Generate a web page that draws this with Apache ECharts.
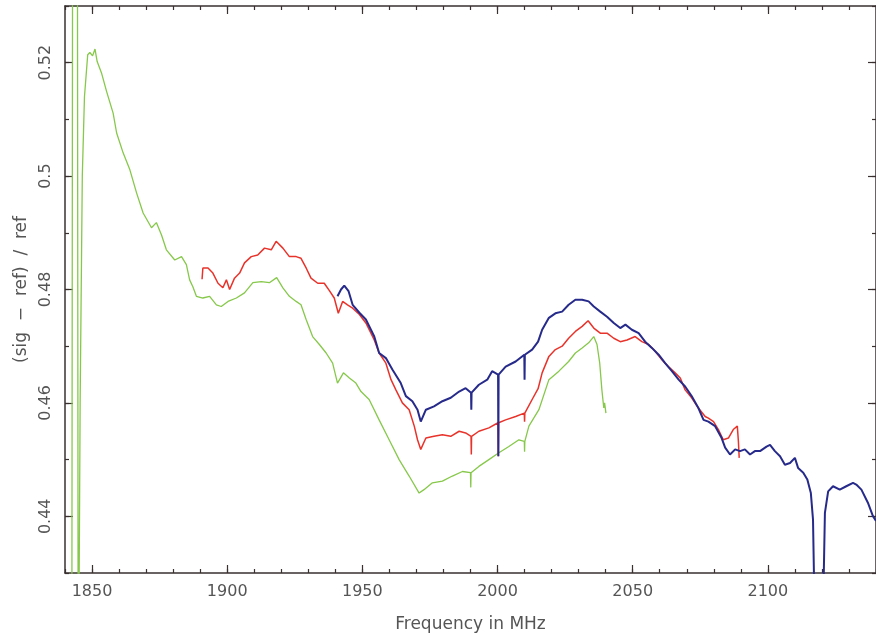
<!DOCTYPE html>
<html>
<head>
<meta charset="utf-8">
<script src="https://cdn.jsdelivr.net/npm/echarts@6/dist/echarts.min.js"></script>
<style>html,body{margin:0;padding:0;background:#fff}#c{width:876px;height:639px}</style>
</head>
<body>
<div id="c"></div>
<script>
// ---- data (frequency MHz, (sig-ref)/ref) ----
const xTickLabels = [1850, 1900, 1950, 2000, 2050, 2100];
const yTickLabels = [0.44, 0.46, 0.48, 0.50, 0.52];

const greenData = [[1842.5,0.40],[1842.8,0.54],[1844.6,0.54],[1844.9,0.40],[1845.6,0.46],[1846.4,0.500],[1847.2,0.514],[1848.4,0.5214],[1849.2,0.5218],[1850.2,0.5212],[1851.1,0.5224],[1851.9,0.5202],[1853.5,0.5182],[1855.4,0.5149],[1857.8,0.5111],[1859.1,0.5076],[1861.5,0.5041],[1864.0,0.5011],[1866.5,0.4970],[1868.9,0.4935],[1872.0,0.4909],[1873.8,0.4918],[1875.7,0.4896],[1877.5,0.4870],[1880.6,0.4852],[1883.1,0.4858],[1884.9,0.4844],[1886.1,0.4817],[1887.3,0.4805],[1888.6,0.4788],[1891.0,0.4785],[1893.5,0.4788],[1896.0,0.4773],[1897.8,0.4770],[1900.3,0.4779],[1903.4,0.4785],[1906.4,0.4794],[1909.5,0.4812],[1912.6,0.4814],[1915.6,0.4812],[1918.3,0.4821],[1920.6,0.4803],[1923.0,0.4788],[1925.5,0.4779],[1927.3,0.4773],[1929.2,0.4747],[1931.6,0.4717],[1934.1,0.4703],[1936.6,0.4688],[1939.0,0.4670],[1940.8,0.4635],[1943.0,0.4653],[1945.2,0.4644],[1947.6,0.4635],[1949.5,0.4620],[1952.5,0.4606],[1956.2,0.4570],[1959.9,0.4535],[1963.6,0.4500],[1967.3,0.4471],[1971.0,0.4441],[1972.8,0.4447],[1975.9,0.4459],[1979.6,0.4462],[1983.3,0.4471],[1987.0,0.4479],[1990.0,0.4477],[1990.1,0.4451],[1990.2,0.4477],[1993.1,0.4488],[1996.8,0.4500],[2000.5,0.4512],[2004.2,0.4523],[2007.9,0.4535],[2009.9,0.4532],[2010.0,0.4514],[2010.1,0.4532],[2011.6,0.4559],[2015.3,0.4588],[2019.0,0.4641],[2022.7,0.4656],[2026.3,0.4673],[2028.8,0.4688],[2031.3,0.4697],[2033.7,0.4706],[2035.6,0.4717],[2036.8,0.4703],[2037.8,0.4670],[2038.6,0.4623],[2039.3,0.4591],[2039.6,0.4600],[2040.1,0.4582]];

const redData = [[1890.7,0.4818],[1891.0,0.4838],[1892.9,0.4838],[1894.7,0.4829],[1896.6,0.4811],[1898.4,0.4803],[1899.7,0.4817],[1900.9,0.4800],[1902.7,0.4820],[1904.6,0.4829],[1906.4,0.4847],[1908.9,0.4858],[1911.3,0.4861],[1913.8,0.4873],[1916.3,0.4870],[1918.1,0.4885],[1920.6,0.4873],[1923.0,0.4858],[1925.5,0.4858],[1927.3,0.4855],[1929.2,0.4838],[1931.0,0.4820],[1933.5,0.4811],[1935.9,0.4811],[1937.8,0.4798],[1939.6,0.4785],[1941.1,0.4758],[1942.7,0.4779],[1944.5,0.4773],[1946.4,0.4767],[1948.9,0.4756],[1951.3,0.4741],[1954.4,0.4711],[1956.2,0.4688],[1958.7,0.4670],[1960.6,0.4641],[1962.4,0.4623],[1964.8,0.4600],[1967.3,0.4588],[1969.2,0.4559],[1970.4,0.4535],[1971.6,0.4518],[1973.5,0.4538],[1976.5,0.4541],[1979.6,0.4544],[1982.7,0.4541],[1985.8,0.4550],[1988.2,0.4547],[1990.2,0.4541],[1990.3,0.4509],[1990.4,0.4541],[1993.1,0.4550],[1996.8,0.4556],[2000.2,0.4565],[2000.3,0.4506],[2000.4,0.4565],[2003.0,0.4570],[2006.7,0.4576],[2009.9,0.4582],[2010.0,0.4567],[2010.1,0.4582],[2012.8,0.4606],[2015.0,0.4625],[2016.5,0.4653],[2019.0,0.4682],[2021.4,0.4694],[2023.9,0.4700],[2026.3,0.4714],[2028.8,0.4726],[2031.3,0.4735],[2033.5,0.4745],[2035.6,0.4732],[2038.0,0.4723],[2040.5,0.4723],[2043.0,0.4714],[2045.4,0.4708],[2047.9,0.4711],[2050.9,0.4717],[2053.4,0.4708],[2055.9,0.4703],[2058.3,0.4691],[2060.8,0.4676],[2063.2,0.4664],[2065.7,0.4653],[2067.6,0.4644],[2069.4,0.4623],[2071.8,0.4609],[2074.3,0.4591],[2076.8,0.4576],[2078.0,0.4573],[2079.9,0.4567],[2081.7,0.4553],[2083.5,0.4535],[2085.4,0.4538],[2087.2,0.4553],[2088.7,0.4559],[2089.1,0.4532],[2089.4,0.4503]];

const blueData = [[1940.8,0.4788],[1942.1,0.4800],[1943.3,0.4807],[1944.9,0.4797],[1946.4,0.4773],[1948.9,0.4759],[1951.3,0.4747],[1954.4,0.4717],[1956.2,0.4688],[1958.7,0.4679],[1961.1,0.4659],[1964.2,0.4635],[1966.1,0.4612],[1968.5,0.4603],[1970.4,0.4588],[1971.6,0.4567],[1973.5,0.4588],[1976.5,0.4594],[1979.6,0.4603],[1982.7,0.4609],[1985.8,0.4620],[1988.2,0.4626],[1990.2,0.4618],[1990.3,0.4588],[1990.4,0.4618],[1993.1,0.4632],[1996.2,0.4641],[1998.0,0.4656],[2000.2,0.4650],[2000.3,0.4506],[2000.4,0.4650],[2003.0,0.4664],[2006.7,0.4673],[2009.9,0.4685],[2010.0,0.4641],[2010.1,0.4685],[2012.8,0.4694],[2015.0,0.4708],[2016.5,0.4729],[2019.0,0.4750],[2021.4,0.4758],[2023.9,0.4761],[2026.3,0.4773],[2028.8,0.4782],[2031.3,0.4782],[2033.7,0.4779],[2035.6,0.4770],[2038.0,0.4761],[2040.5,0.4752],[2043.0,0.4741],[2045.4,0.4732],[2047.3,0.4738],[2049.7,0.4729],[2052.2,0.4723],[2054.6,0.4708],[2057.1,0.4697],[2059.6,0.4685],[2062.0,0.4670],[2064.5,0.4656],[2067.0,0.4641],[2069.4,0.4629],[2071.8,0.4612],[2074.3,0.4591],[2076.2,0.4570],[2078.0,0.4567],[2080.5,0.4559],[2082.9,0.4538],[2084.2,0.4521],[2086.0,0.4509],[2087.9,0.4518],[2089.7,0.4515],[2091.5,0.4518],[2093.4,0.4509],[2095.2,0.4515],[2097.1,0.4515],[2099.5,0.4523],[2100.8,0.4526],[2102.6,0.4515],[2104.5,0.4506],[2106.3,0.4491],[2108.2,0.4494],[2110.0,0.4503],[2111.2,0.4485],[2113.1,0.4477],[2114.6,0.4465],[2115.9,0.4441],[2116.7,0.4394],[2117.4,0.42],[2120.3,0.42],[2121.1,0.4406],[2122.3,0.4444],[2124.1,0.4453],[2126.6,0.4447],[2129.0,0.4453],[2131.5,0.4459],[2132.7,0.4456],[2134.6,0.4447],[2137.0,0.4424],[2138.9,0.4400],[2140.0,0.4392]];

// ---- chart ----
const axisColor = '#3a3030';
const textColor = '#555';
const font = 'DejaVu Sans';
const X_MIN = 1840, X_MAX = 2140, Y_MIN = 0.43, Y_MAX = 0.53;

function xAx(pos, major, withLabels) {
  return {
    type: 'value', position: pos, min: X_MIN, max: X_MAX, interval: 10,
    axisLine: { show: !major, onZero: false, lineStyle: { color: axisColor, width: 1.5 } },
    axisTick: major ? { inside: true, length: 8, customValues: xTickLabels, lineStyle: { color: axisColor, width: 1.2 } }
                    : { inside: true, length: 4, lineStyle: { color: axisColor, width: 1.2 } },
    axisLabel: withLabels ? { customValues: xTickLabels, margin: 11, fontSize: 16, fontFamily: font, color: textColor,
                              formatter: v => String(Math.round(v)) } : { show: false },
    splitLine: { show: false },
    name: withLabels ? 'Frequency in MHz' : '',
    nameLocation: 'middle', nameGap: 43,
    nameTextStyle: { fontSize: 17, fontFamily: font, color: textColor }
  };
}
function yAx(pos, major, withLabels) {
  return {
    type: 'value', position: pos, min: Y_MIN, max: Y_MAX, interval: 0.01,
    axisLine: { show: !major, onZero: false, lineStyle: { color: axisColor, width: 1.5 } },
    axisTick: major ? { inside: true, length: 8, customValues: yTickLabels, lineStyle: { color: axisColor, width: 1.2 } }
                    : { inside: true, length: 4, lineStyle: { color: axisColor, width: 1.2 } },
    axisLabel: withLabels ? { customValues: yTickLabels, rotate: 90, margin: 11, fontSize: 16, fontFamily: font, color: textColor,
                              formatter: v => String(+v.toFixed(2)) } : { show: false },
    splitLine: { show: false },
    name: withLabels ? '(sig  \u2212  ref)  /  ref' : '',
    nameLocation: 'middle', nameGap: 33, nameRotate: 90,
    nameTextStyle: { fontSize: 17, fontFamily: font, color: textColor }
  };
}

const chart = echarts.init(document.getElementById('c'), null, { renderer: 'canvas' });
chart.setOption({
  animation: false,
  backgroundColor: '#fff',
  grid: { left: 65, right: -4, top: 6, bottom: 66, containLabel: false },
  xAxis: [xAx('bottom', false, true), xAx('bottom', true, false), xAx('top', false, false), xAx('top', true, false)],
  yAxis: [yAx('left', false, true), yAx('left', true, false), yAx('right', false, false), yAx('right', true, false)],
  series: [
    { type: 'line', name: 'green', data: greenData, showSymbol: false, clip: true,
      lineStyle: { color: '#86c84a', width: 1.3 }, z: 3 },
    { type: 'line', name: 'red', data: redData, showSymbol: false, clip: true,
      lineStyle: { color: '#e8332b', width: 1.5 }, z: 4 },
    { type: 'line', name: 'blue', data: blueData, showSymbol: false, clip: true,
      lineStyle: { color: '#262a8a', width: 2 }, z: 5 }
  ]
});
</script>
</body>
</html>
